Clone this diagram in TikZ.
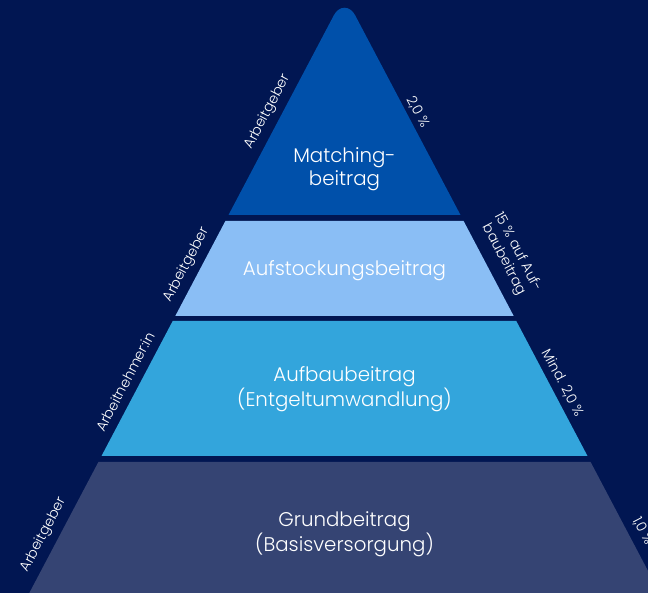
\documentclass[tikz,border=0pt]{standalone}
\usepackage{fontspec}
\setmainfont{Poppins Light}
\usetikzlibrary{calc}
\definecolor{bgnavy}{HTML}{011652}
\definecolor{layerA}{HTML}{0050AA}
\definecolor{layerB}{HTML}{8ABEF5}
\definecolor{layerC}{HTML}{33A5DC}
\definecolor{layerD}{HTML}{354473}
\begin{document}
\begin{tikzpicture}[x=1pt,y=1pt,
  layertext/.style={text=white, font=\fontsize{19.8}{23.5}\selectfont, align=center, inner sep=0pt},
  sidetext/.style={text=white, font=\fontsize{14}{16}\selectfont, align=center, inner sep=0pt},
  lefttext/.style={sidetext, rotate=62.2},
  righttext/.style={sidetext, rotate=-62.2}]
\fill[bgnavy] (0,0) rectangle (648,593);
\useasboundingbox (0,0) rectangle (648,593);
% layer 1 (top, rounded apex)
\coordinate (apex) at (344.5,598);
\coordinate (p1) at (333.8,577.6);
\coordinate (p2) at (355.2,577.6);
\fill[layerA] (228.5,378) -- (p1) .. controls ($(p1)!0.5!(apex)$) and ($(p2)!0.5!(apex)$) .. (p2) -- (460.5,378) -- cycle;
% layer 2
\fill[layerB] (225.4,372) -- (463.6,372) -- (513.7,277) -- (175.3,277) -- cycle;
% layer 3
\fill[layerC] (172.7,272) -- (516.3,272) -- (587.5,137) -- (101.5,137) -- cycle;
% layer 4
\coordinate (c4) at (26.7,-5);
\fill[layerD] (98.4,131) -- (30.4,2.1) .. controls (c4) .. (34.7,-5) -- (662.3,-5) -- (590.6,131) -- cycle;
% main texts
\node[layertext] (m1) at (344.5,424) {Matching-\\beitrag};
\node[layertext] (m2) at (344.5,322) {Aufstockungsbeitrag};
\node[layertext] (m3) at (344.5,204) {Aufbaubeitrag\\(Entgeltumwandlung)};
\node[layertext] (m4) at (344.5,59) {Grundbeitrag\\(Basisversorgung)};
% side labels
\node[lefttext] (l1) at (268,481) {Arbeitgeber};
\node[righttext] (r1) at (418,481) {2,0 \%};
\node[lefttext] (l2) at (187,328) {Arbeitgeber};
\node[righttext] (r2) at (511,337) {15 \% auf Auf-\\baubeitrag};
\node[lefttext] (l3) at (125,211) {Arbeitnehmer:in};
\node[righttext] (r3) at (563,210) {Mind. 2,0 \%};
\node[lefttext] (l4) at (44,58) {Arbeitgeber};
\node[righttext] (r4) at (643,62) {1,0 \%};
\end{tikzpicture}
\end{document}
